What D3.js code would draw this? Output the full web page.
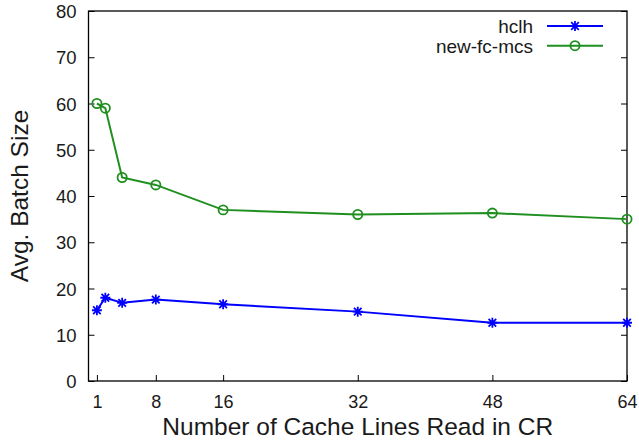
<!DOCTYPE html>
<html>
<head>
<meta charset="utf-8">
<script src="https://cdn.jsdelivr.net/npm/d3@7"></script>
<style>
  body { margin: 0; background: #fff; }
  text { font-family: "Liberation Sans", Arial, sans-serif; fill: #1a1a1a; }
</style>
</head>
<body>
<div id="chart"></div>
<script>
// data
const cacheLines = [1, 2, 4, 8, 16, 32, 48, 64];
const hclh = [15.3, 18.0, 16.9, 17.6, 16.6, 15.0, 12.6, 12.6];
const newFcMcs = [60.0, 59.0, 44.0, 42.4, 37.0, 36.0, 36.3, 35.0];
const xTicks = [1, 8, 16, 32, 48, 64];
const yTicks = [0, 10, 20, 30, 40, 50, 60, 70, 80];

const width = 639, height = 447;
const margin = { top: 11, left: 88.5, right: 12, bottom: 66 };

const svg = d3.select("#chart").append("svg")
    .attr("width", width)
    .attr("height", height);

const xScale = d3.scaleLinear()
    .domain([0, 64])
    .range([margin.left, width - margin.right]);

const yScale = d3.scaleLinear()
    .domain([0, 80])
    .range([height - margin.bottom, margin.top]);

const plotW = width - margin.right - margin.left;
const plotH = height - margin.bottom - margin.top;

// axes, ticks point inward
const xAxis = d3.axisBottom(xScale).tickValues(xTicks).tickSizeInner(-6).tickSizeOuter(0).tickPadding(14);
const yAxis = d3.axisLeft(yScale).tickValues(yTicks).tickSizeInner(-6).tickSizeOuter(0).tickPadding(12);
const yAxisR = d3.axisRight(yScale).tickValues(yTicks).tickSizeInner(-6).tickSizeOuter(0).tickFormat("");

const gx = svg.append("g")
    .attr("transform", `translate(0,${yScale(0)})`)
    .call(xAxis);
const gy = svg.append("g")
    .attr("transform", `translate(${xScale(0)},0)`)
    .call(yAxis);
const gyr = svg.append("g")
    .attr("transform", `translate(${xScale(64)},0)`)
    .call(yAxisR);

[gx, gy, gyr].forEach(g => {
    g.select(".domain").remove();
    g.selectAll(".tick line").attr("stroke", "#000").attr("stroke-width", 1);
    g.selectAll(".tick text").attr("font-size", 18.5).attr("fill", "#1a1a1a");
});
gy.selectAll(".tick text").attr("dy", "0.36em");
gx.selectAll(".tick text").attr("font-size", 18).attr("dy", "0.71em");

// frame
svg.append("rect")
    .attr("x", margin.left)
    .attr("y", margin.top)
    .attr("width", plotW)
    .attr("height", plotH)
    .attr("fill", "none")
    .attr("stroke", "#000")
    .attr("stroke-width", 1.3);

// axis titles
svg.append("text")
    .attr("x", margin.left + plotW / 2)
    .attr("y", 435)
    .attr("text-anchor", "middle")
    .attr("font-size", 24.5)
    .text("Number of Cache Lines Read in CR");

svg.append("text")
    .attr("transform", `translate(28,${margin.top + plotH / 2}) rotate(-90)`)
    .attr("text-anchor", "middle")
    .attr("font-size", 24.5)
    .text("Avg. Batch Size");

const line = d3.line()
    .x(d => xScale(d[0]))
    .y(d => yScale(d[1]));

const series = [
    { name: "hclh", values: hclh, color: "#0000ff", marker: "star" },
    { name: "new-fc-mcs", values: newFcMcs, color: "#1f8f1f", marker: "circle" }
];

function drawMarker(g, type, x, y, color) {
    if (type === "circle") {
        g.append("circle")
            .attr("cx", x).attr("cy", y).attr("r", 4.6)
            .attr("fill", "none").attr("stroke", color).attr("stroke-width", 1.8);
    } else {
        const s = 5, d = 3.8;
        g.append("path")
            .attr("d", `M${x - s},${y}H${x + s}M${x},${y - s}V${y + s}M${x - d},${y - d}L${x + d},${y + d}M${x - d},${y + d}L${x + d},${y - d}`)
            .attr("stroke", color).attr("stroke-width", 1.8).attr("fill", "none");
    }
}

series.forEach((s, i) => {
    const pts = cacheLines.map((c, j) => [c, s.values[j]]);
    svg.append("path")
        .datum(pts)
        .attr("fill", "none")
        .attr("stroke", s.color)
        .attr("stroke-width", 2)
        .attr("d", line);
    const mg = svg.append("g");
    pts.forEach(p => drawMarker(mg, s.marker, xScale(p[0]), yScale(p[1]), s.color));

    // legend
    const ly = 26 + i * 19.7;
    svg.append("text")
        .attr("x", 533)
        .attr("y", ly)
        .attr("dy", "0.36em")
        .attr("text-anchor", "end")
        .attr("font-size", 19)
        .text(s.name);
    svg.append("line")
        .attr("x1", 547).attr("x2", 603)
        .attr("y1", ly).attr("y2", ly)
        .attr("stroke", s.color).attr("stroke-width", 2);
    drawMarker(svg, s.marker, 575, ly, s.color);
});
</script>
</body>
</html>
